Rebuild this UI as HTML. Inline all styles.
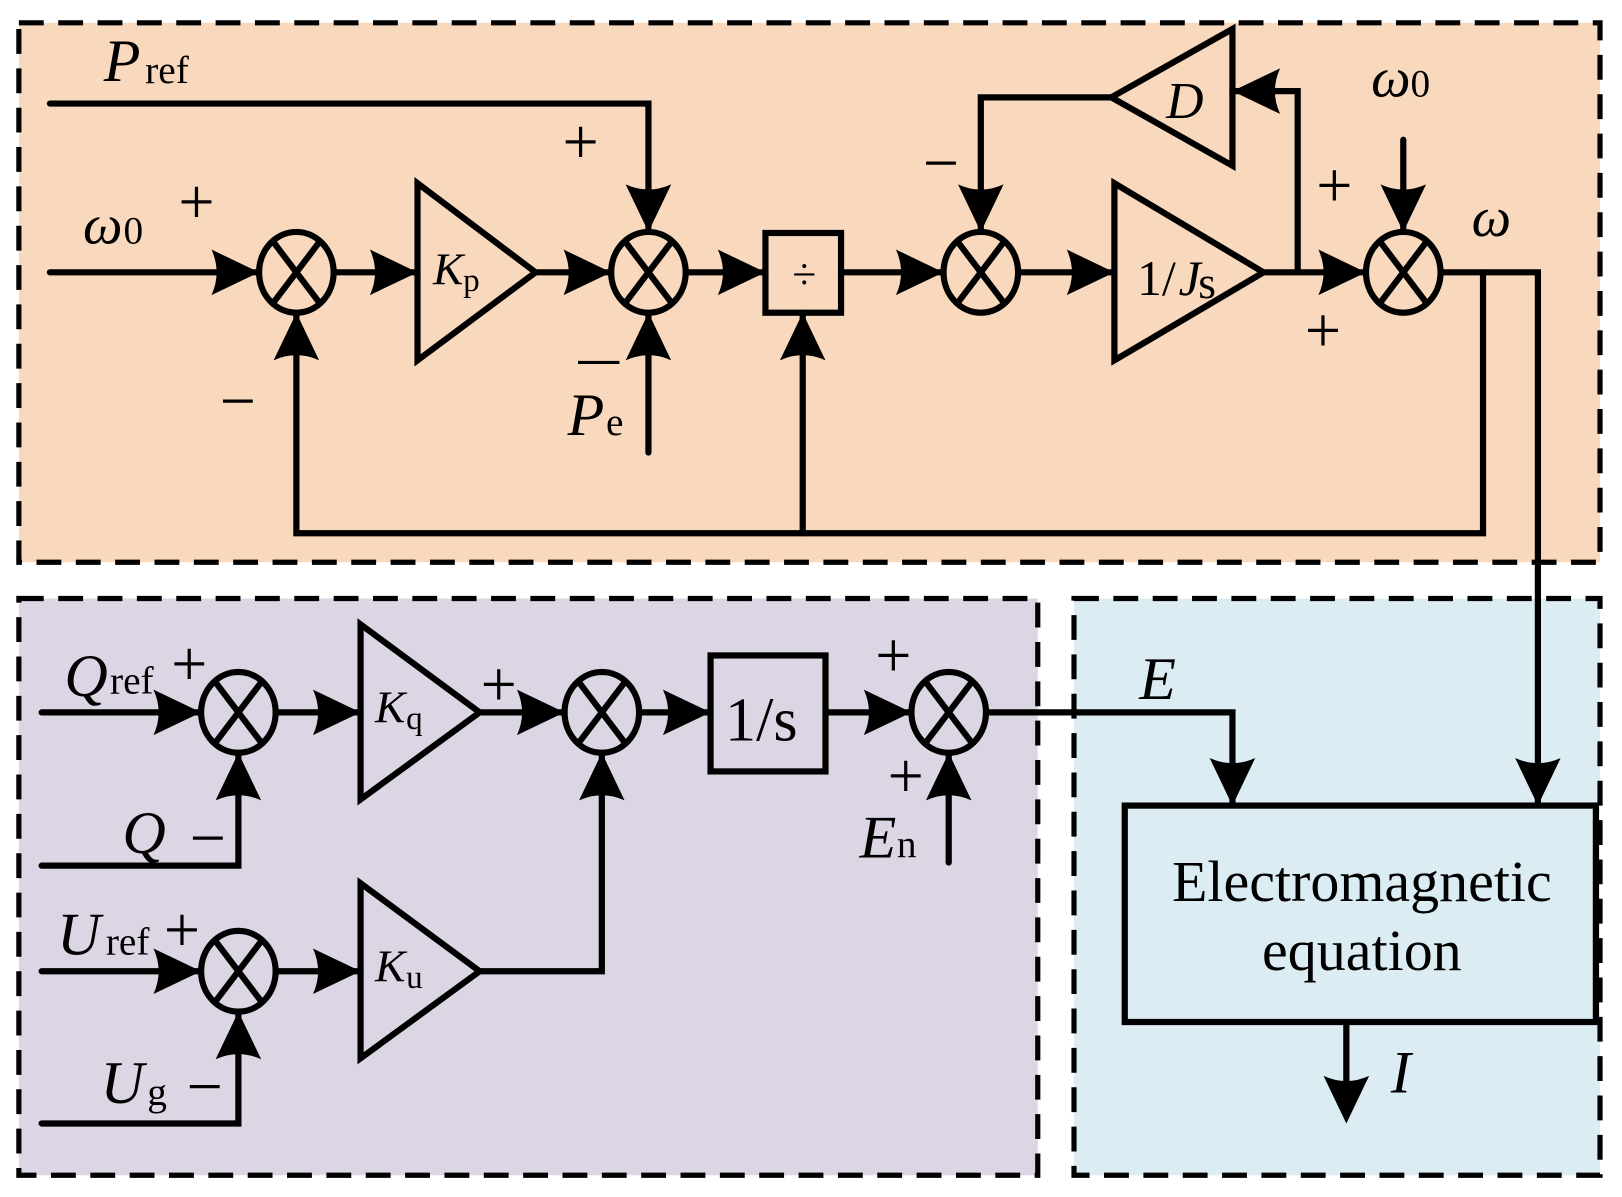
<!DOCTYPE html>
<html><head><meta charset="utf-8"><style>
html,body{margin:0;padding:0;background:#fff;}
svg{display:block;}
text{font-family:"Liberation Serif",serif;fill:#000;}
.it{font-style:italic;}
.pm{font-size:62px;}
</style></head><body>
<svg width="1622" height="1197" viewBox="0 0 1566 1156" xmlns="http://www.w3.org/2000/svg">
<defs>
<path id="ar" d="M0,0 L-46,-22 Q-36,0 -46,22 Z" fill="#000"/>
<g id="sum"><ellipse cx="0" cy="0" rx="36" ry="39" fill="none" stroke="#000" stroke-width="6"/>
<line x1="-22" y1="-29" x2="22" y2="29" stroke="#000" stroke-width="6"/><line x1="22" y1="-29" x2="-22" y2="29" stroke="#000" stroke-width="6"/></g>
</defs>
<rect x="18" y="22" width="1527" height="521" fill="#f9d9bd" stroke="#000" stroke-width="5" stroke-dasharray="24,14"/>
<rect x="18" y="578" width="984" height="557" fill="#dcd6e4" stroke="#000" stroke-width="5" stroke-dasharray="24,14"/>
<rect x="1037" y="578" width="508" height="557" fill="#dbedf2" stroke="#000" stroke-width="5" stroke-dasharray="24,14"/>

<g stroke="#000" stroke-width="6" fill="none" stroke-linecap="round" stroke-linejoin="miter">
<polyline points="48,100 626,100 626,220"/>
<line x1="48" y1="263" x2="248" y2="263"/>
<line x1="322" y1="263" x2="403" y2="263"/>
<polygon points="403,177 403,348 517,263"/>
<line x1="517" y1="263" x2="590" y2="263"/>
<line x1="626" y1="303" x2="626" y2="437"/>
<line x1="662" y1="263" x2="739" y2="263"/>
<rect x="739" y="225" width="73" height="77"/>
<line x1="812" y1="263" x2="910" y2="263"/>
<line x1="983" y1="263" x2="1076" y2="263"/>
<polygon points="1076,177 1076,348 1220,263"/>
<line x1="1220" y1="263" x2="1318" y2="263"/>
<polyline points="1253,263 1253,88 1190,88"/>
<polygon points="1190,28 1190,160 1073,94"/>
<polyline points="1073,94 947,94 947,222"/>
<line x1="1355" y1="135" x2="1355" y2="222"/>
<polyline points="1391,263 1485,263 1485,775"/>
<polyline points="1432,263 1432,515 286,515 286,303"/>
<line x1="775" y1="515" x2="775" y2="302"/>
<line x1="40" y1="688" x2="192" y2="688"/>
<polyline points="40,836 230,836 230,728"/>
<line x1="266" y1="688" x2="348" y2="688"/>
<polygon points="348,603 348,772 463,688"/>
<line x1="463" y1="688" x2="545" y2="688"/>
<line x1="617" y1="688" x2="686" y2="688"/>
<rect x="686" y="633" width="111" height="112"/>
<line x1="797" y1="688" x2="880" y2="688"/>
<line x1="916" y1="833" x2="916" y2="728"/>
<polyline points="952,688 1190,688 1190,775"/>
<line x1="40" y1="938" x2="192" y2="938"/>
<polyline points="40,1085 230,1085 230,978"/>
<line x1="266" y1="938" x2="348" y2="938"/>
<polygon points="348,853 348,1022 463,938"/>
<polyline points="463,938 581,938 581,728"/>
<rect x="1086" y="778" width="455" height="209"/>
<line x1="1300" y1="987" x2="1300" y2="1045"/>
</g>

<use href="#sum" x="286" y="263"/>
<use href="#sum" x="626" y="263"/>
<use href="#sum" x="947" y="263"/>
<use href="#sum" x="1355" y="263"/>
<use href="#sum" x="230" y="688"/>
<use href="#sum" x="581" y="688"/>
<use href="#sum" x="916" y="688"/>
<use href="#sum" x="230" y="938"/>

<use href="#ar" transform="translate(250,263)"/>
<use href="#ar" transform="translate(403,263)"/>
<use href="#ar" transform="translate(590,263)"/>
<use href="#ar" transform="translate(739,263)"/>
<use href="#ar" transform="translate(911,263)"/>
<use href="#ar" transform="translate(1076,263)"/>
<use href="#ar" transform="translate(1319,263)"/>
<use href="#ar" transform="translate(626,224) rotate(90)"/>
<use href="#ar" transform="translate(947,224) rotate(90)"/>
<use href="#ar" transform="translate(1355,224) rotate(90)"/>
<use href="#ar" transform="translate(626,302) rotate(-90)"/>
<use href="#ar" transform="translate(286,302) rotate(-90)"/>
<use href="#ar" transform="translate(775,302) rotate(-90)"/>
<use href="#ar" transform="translate(1190,88) rotate(180)"/>
<use href="#ar" transform="translate(1485,778) rotate(90)"/>
<use href="#ar" transform="translate(1190,778) rotate(90)"/>
<use href="#ar" transform="translate(194,688)"/>
<use href="#ar" transform="translate(348,688)"/>
<use href="#ar" transform="translate(545,688)"/>
<use href="#ar" transform="translate(686,688)"/>
<use href="#ar" transform="translate(880,688)"/>
<use href="#ar" transform="translate(230,727) rotate(-90)"/>
<use href="#ar" transform="translate(581,727) rotate(-90)"/>
<use href="#ar" transform="translate(916,727) rotate(-90)"/>
<use href="#ar" transform="translate(194,938)"/>
<use href="#ar" transform="translate(348,938)"/>
<use href="#ar" transform="translate(230,977) rotate(-90)"/>
<use href="#ar" transform="translate(1300,1085) rotate(90)"/>

<text x="100" y="78" font-size="58" class="it">P</text><text x="140" y="80" font-size="38">ref</text>
<text x="80" y="235" font-size="54" class="it">ω</text><text x="119" y="235" font-size="38">0</text>
<text class="pm" x="172" y="216">+</text>
<text class="pm" x="543" y="158">+</text>
<text class="pm" x="212" y="408">−</text>
<line x1="558" y1="350" x2="598" y2="350" stroke="#000" stroke-width="3"/>
<text x="548" y="420" font-size="58" class="it">P</text><text x="585" y="420" font-size="38">e</text>
<text x="418" y="275" font-size="44" class="it">K</text><text x="447" y="281" font-size="32">p</text>
<text x="765" y="279" font-size="42">÷</text>
<text class="pm" x="891" y="178">−</text>
<text x="1098" y="285" font-size="48">1/</text><text x="1138" y="285" font-size="48" class="it">J</text><text x="1157" y="288" font-size="44">s</text>
<text x="1126" y="114" font-size="50" class="it">D</text>
<text x="1324" y="93" font-size="54" class="it">ω</text><text x="1362" y="93" font-size="38">0</text>
<text class="pm" x="1271" y="200">+</text>
<text class="pm" x="1260" y="340">+</text>
<text x="1421" y="228" font-size="54" class="it">ω</text>

<text x="62" y="672" font-size="58" class="it">Q</text><text x="106" y="670" font-size="38">ref</text>
<text class="pm" x="165" y="662">+</text>
<text x="118" y="824" font-size="58" class="it">Q</text>
<text class="pm" x="183" y="830">−</text>
<text x="362" y="698" font-size="44" class="it">K</text><text x="392" y="704" font-size="32">q</text>
<text class="pm" x="464" y="682">+</text>
<text x="700" y="715" font-size="60">1/s</text>
<text class="pm" x="845" y="654">+</text>
<text class="pm" x="857" y="770">+</text>
<text x="830" y="828" font-size="58" class="it">E</text><text x="866" y="828" font-size="38">n</text>
<text x="1100" y="675" font-size="58" class="it">E</text>
<text x="55" y="922" font-size="58" class="it">U</text><text x="102" y="922" font-size="38">ref</text>
<text class="pm" x="158" y="919">+</text>
<text x="97" y="1065" font-size="58" class="it">U</text><text x="142" y="1067" font-size="38">g</text>
<text class="pm" x="180" y="1070">−</text>
<text x="362" y="948" font-size="44" class="it">K</text><text x="392" y="954" font-size="32">u</text>
<text x="1315" y="870" font-size="56" text-anchor="middle">Electromagnetic</text>
<text x="1315" y="937" font-size="56" text-anchor="middle">equation</text>
<text x="1343" y="1055" font-size="58" class="it">I</text>
</svg>
</body></html>
